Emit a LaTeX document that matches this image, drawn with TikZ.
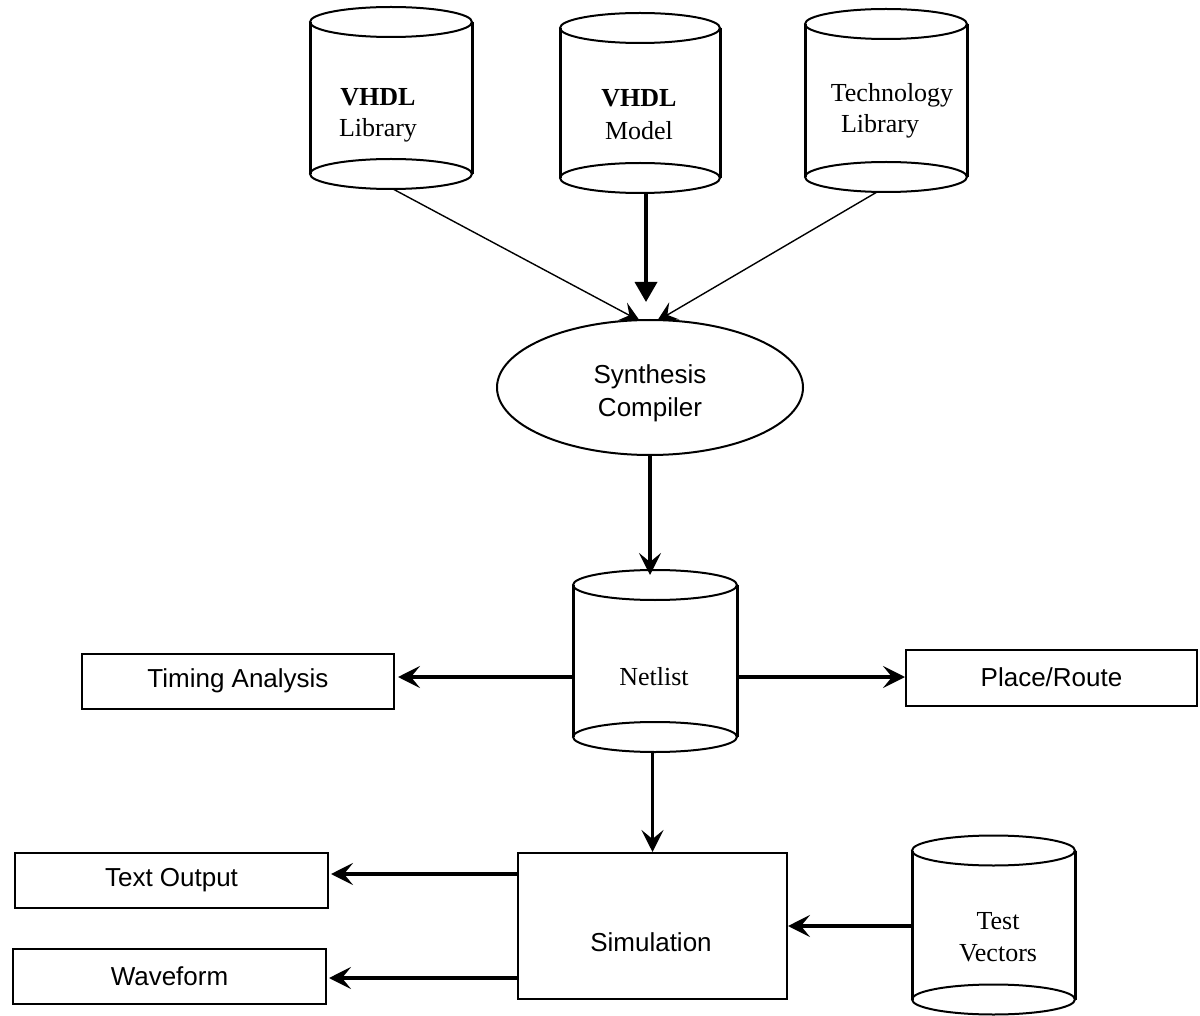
\documentclass[tikz,border=0pt]{standalone}
\usepackage{fontspec}
\setmainfont{Liberation Serif}
\setsansfont{Liberation Sans}
\usetikzlibrary{arrows.meta,calc,shapes.geometric}

% half-height of the end ellipses of a drum
\newcommand\drumry{7.5pt}
% outline of a drum (database cylinder) around a named node
\newcommand\drawdrum[1]{%
  \draw[drumside] ([yshift=-\drumry]#1.north west) -- ([yshift=\drumry]#1.south west);
  \draw[drumside] ([yshift=-\drumry]#1.north east) -- ([yshift=\drumry]#1.south east);
  \draw[drumrim] let \p1=($(#1.north east)-(#1.north west)$) in
    ([yshift=-\drumry]#1.north) ellipse [x radius={0.5*\x1}, y radius=\drumry];
  \draw[drumrim] let \p1=($(#1.north east)-(#1.north west)$) in
    ([yshift=\drumry]#1.south) ellipse [x radius={0.5*\x1}, y radius=\drumry];
}

\tikzset{
  drum/.style={rectangle, draw=none, inner sep=0pt, outer sep=0pt},
  drumside/.style={line width=1.5pt},
  drumrim/.style={line width=1pt},
  seriftext/.style={font=\fontsize{13}{15.5}\selectfont, align=center, inner sep=0pt},
  sanstext/.style={font=\sffamily\fontsize{13}{16.5}\selectfont, align=center, inner sep=0pt},
  box/.style={rectangle, draw, line width=1pt, inner sep=0pt,
    font=\sffamily\fontsize{13}{15.5}\selectfont},
  oval/.style={ellipse, draw, line width=1pt, inner sep=0pt},
  flow/.style={line width=1.8pt, -{Stealth[length=11pt, width=11pt, inset=4.5pt]}},
  thinflow/.style={line width=0.7pt, -{Stealth[length=10pt, width=10pt, inset=4pt]}},
  bigflow/.style={line width=1.8pt, -{Triangle[length=10pt, width=11pt]}},
}

\begin{document}
\begin{tikzpicture}[x=0.5pt, y=-0.5pt]
  \useasboundingbox (0,0) rectangle (1200,1016);

  % data stores
  \node[drum, minimum width=81pt, minimum height=91pt]   (lib)     at (391,98) {};
  \node[drum, minimum width=80pt, minimum height=90pt]   (model)   at (640,103) {};
  \node[drum, minimum width=81pt, minimum height=91.5pt] (tech)    at (886,100.5) {};
  \node[drum, minimum width=82pt, minimum height=91pt]   (netlist) at (655,661) {};
  \node[drum, minimum width=81.5pt, minimum height=89.5pt] (tv)    at (993.5,925) {};
  \drawdrum{lib}
  \drawdrum{model}
  \drawdrum{tech}
  \drawdrum{netlist}
  \drawdrum{tv}

  \node[seriftext] (libtxt) at (378,115) {\textbf{VHDL}\\Library};
  \node[seriftext, font=\fontsize{13}{16.5}\selectfont] (modeltxt) at (639,115) {\textbf{VHDL}\\Model};
  \node[seriftext] (techtxt) at (892,111) {Technology\\Library\hspace*{12pt}};
  \node[seriftext] (netlisttxt) at (654,677) {Netlist};
  \node[seriftext, font=\fontsize{13}{16}\selectfont] (tvtxt) at (998,937) {Test\\Vectors};

  % compiler
  \node[oval, minimum width=153pt, minimum height=67.5pt] (synth) at (650,387.5) {};
  \node[sanstext] (synthtxt) at (650,393) {Synthesis\\Compiler};

  % tools and outputs
  \node[box, minimum width=156pt, minimum height=27.5pt] (timing) at (238,681) {Timing Analysis};
  \node[box, minimum width=145.5pt, minimum height=28pt] (place) at (1051.5,677.5) {Place/Route};
  \node[box, minimum width=134.5pt, minimum height=73pt] (sim) at (652.5,926) {};
  \node[sanstext] (simtxt) at (651,942.5) {Simulation};
  \node[box, minimum width=156.5pt, minimum height=27.5pt] (textout) at (171.5,880.5) {Text Output};
  \node[box, minimum width=156.5pt, minimum height=27.5pt] (wave) at (169.5,976.5) {Waveform};

  % connectors
  \draw[thinflow] ([xshift=1pt]lib.south) -- ([xshift=-5pt,yshift=-1pt]synth.north);
  \draw[thinflow] ([xshift=-4.5pt]tech.south) -- ([xshift=3.5pt,yshift=-1pt]synth.north);
  \draw[bigflow] ([xshift=3pt]model.south) -- ([xshift=-2pt,yshift=8.5pt]synth.north);
  \draw[flow] (synth.south) -- ([yshift=-2.5pt]synth.south |- netlist.north);

  \coordinate (rowy) at (0,677);
  \draw[flow] (netlist.west |- rowy) -- ([xshift=1.5pt]timing.east |- rowy);
  \draw[flow] (netlist.east |- rowy) -- (place.west |- rowy);
  \draw[flow] (netlist.south -| sim.north) -- (sim.north);

  \coordinate (outy) at (0,874);
  \coordinate (wavey) at (0,978);
  \draw[flow] (sim.west |- outy) -- ([xshift=1pt]textout.east |- outy);
  \draw[flow] (sim.west |- wavey) -- ([xshift=1pt]wave.east |- wavey);
  \draw[flow] (tv.west |- sim.east) -- (sim.east);
\end{tikzpicture}
\end{document}
